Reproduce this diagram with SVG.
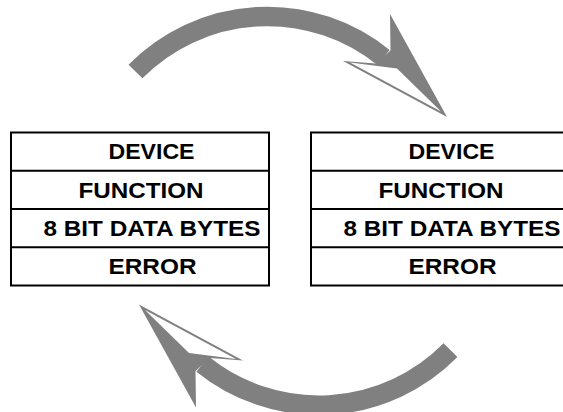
<svg xmlns="http://www.w3.org/2000/svg" xmlns:xlink="http://www.w3.org/1999/xlink" width="563" height="412" viewBox="0 0 563 412">
  <style>
    .frame { fill: #fff; stroke: #000; stroke-width: 2; }
    .rule { stroke: #000; stroke-width: 2; }
    .label { font-family: "Liberation Sans", Arial, sans-serif; font-weight: bold; font-size: 22px; fill: #000; }
    .band { fill: none; stroke: #808080; stroke-width: 19.5; }
    .head { fill: #808080; }
    .face { fill: #fff; }
  </style>
  <defs>
    <!-- curved block arrow: arc band plus a half-outlined arrowhead -->
    <g id="bend-arrow">
      <path class="band" d="M135.5,71.5 A185,185 0 0 1 383.5,57.5"/>
      <polygon class="head" points="390,14 447,117 343,61 376,63.5 390.5,50.5"/>
      <polygon class="face" points="350,62.6 397,68.5 441,111.5"/>
    </g>
  </defs>

  <g id="connectors">
    <use id="arrow-forward" href="#bend-arrow" xlink:href="#bend-arrow"/>
    <use id="arrow-back" href="#bend-arrow" xlink:href="#bend-arrow" transform="rotate(180 293 210.8)"/>
  </g>

  <g id="frame-left">
    <rect class="frame" x="11" y="132.5" width="258" height="153"/>
    <line class="rule" x1="11" y1="170.8" x2="269" y2="170.8"/>
    <line class="rule" x1="11" y1="209" x2="269" y2="209"/>
    <line class="rule" x1="11" y1="247.3" x2="269" y2="247.3"/>
    <text class="label" x="108.5" y="159.3" textLength="86" lengthAdjust="spacingAndGlyphs">DEVICE</text>
    <text class="label" x="78.5" y="197.6" textLength="125" lengthAdjust="spacingAndGlyphs">FUNCTION</text>
    <text class="label" x="43.5" y="235.7" textLength="217" lengthAdjust="spacingAndGlyphs">8 BIT DATA BYTES</text>
    <text class="label" x="108.5" y="274" textLength="88" lengthAdjust="spacingAndGlyphs">ERROR</text>
  </g>

  <g id="frame-right">
    <rect class="frame" x="311" y="132.5" width="258" height="153"/>
    <line class="rule" x1="311" y1="170.8" x2="569" y2="170.8"/>
    <line class="rule" x1="311" y1="209" x2="569" y2="209"/>
    <line class="rule" x1="311" y1="247.3" x2="569" y2="247.3"/>
    <text class="label" x="408.5" y="159.3" textLength="86" lengthAdjust="spacingAndGlyphs">DEVICE</text>
    <text class="label" x="378.5" y="197.6" textLength="125" lengthAdjust="spacingAndGlyphs">FUNCTION</text>
    <text class="label" x="343.5" y="235.7" textLength="217" lengthAdjust="spacingAndGlyphs">8 BIT DATA BYTES</text>
    <text class="label" x="408.5" y="274" textLength="88" lengthAdjust="spacingAndGlyphs">ERROR</text>
  </g>
</svg>
